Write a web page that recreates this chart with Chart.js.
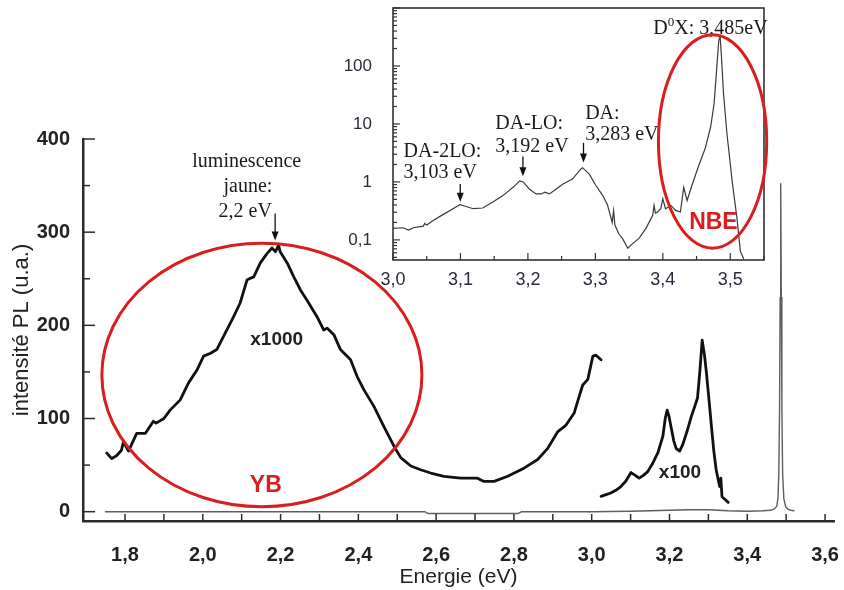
<!DOCTYPE html>
<html lang="fr">
<head>
<meta charset="utf-8">
<title>Spectre de photoluminescence</title>
<script src="https://cdn.jsdelivr.net/npm/chart.js@4.4.1/dist/chart.umd.min.js"></script>
<style>
  body { margin: 0; background: #fff; }
  #wrap { position: relative; width: 844px; height: 590px; }
  #main { position: absolute; left: 0; top: 0; }
  #inset { position: absolute; left: 330px; top: 0; }
</style>
</head>
<body>
<div id="wrap">
  <canvas id="main" width="844" height="590"></canvas>
  <canvas id="inset" width="470" height="290"></canvas>
</div>
<script>
// spectre brut (x1), trait gris
const pl1Energy = [1.75, 2.0, 2.3, 2.57, 2.58, 2.81, 2.82, 3.0, 3.1, 3.15, 3.2, 3.25, 3.3, 3.35, 3.4, 3.44, 3.46, 3.47,
  3.476, 3.479, 3.481, 3.483, 3.4845, 3.486, 3.4875, 3.489, 3.491, 3.494, 3.499, 3.505, 3.512, 3.52];
const pl1Intensity = [0, 0, 0, 0, -2, -2, 0, 0, 0.5, 1, 1.5, 2, 2, 1, 0.5, 1, 1.5, 3,
  6, 15, 40, 110, 230, 352, 230, 110, 40, 14, 5, 2.5, 1.5, 1];

// bande jaune (x1000)
const ybEnergy = [1.753, 1.766, 1.778, 1.791, 1.796, 1.809, 1.830, 1.852, 1.873, 1.880, 1.900, 1.916, 1.942, 1.963, 1.985,
  2.002, 2.020, 2.036, 2.053, 2.079, 2.096, 2.114, 2.131, 2.148, 2.165, 2.178, 2.187, 2.195, 2.199, 2.217, 2.234,
  2.251, 2.268, 2.294, 2.311, 2.320, 2.337, 2.354, 2.380, 2.397, 2.414, 2.440, 2.466, 2.492, 2.509, 2.535, 2.560,
  2.586, 2.620, 2.663, 2.706, 2.723, 2.749, 2.784, 2.801, 2.827, 2.861, 2.887, 2.913, 2.934, 2.955, 2.968, 2.977,
  2.990, 3.003, 3.011, 3.024];
const ybIntensity = [63, 57, 60, 66, 75, 65, 84, 84, 97, 95, 100, 109, 120, 138, 152,
  167, 170, 174, 188, 209, 224, 249, 252, 267, 277, 283, 279, 286, 279, 267, 252,
  238, 227, 209, 195, 197, 190, 174, 163, 145, 131, 113, 91, 70, 58, 49, 45,
  41.5, 38, 36, 36, 32.5, 32.5, 38, 41.5, 47, 56, 68, 86, 93, 106, 124, 136,
  142, 167, 168, 163];

// transitions DA (x100)
const daEnergy = [3.024, 3.035, 3.049, 3.062, 3.075, 3.088, 3.101, 3.112, 3.122, 3.133, 3.144, 3.157, 3.170, 3.183,
  3.189, 3.194, 3.199, 3.204, 3.211, 3.217, 3.226, 3.234, 3.245, 3.256, 3.265, 3.272, 3.278, 3.284, 3.290, 3.295,
  3.302, 3.308, 3.314, 3.320, 3.326, 3.329, 3.332, 3.335, 3.343, 3.351];
const daIntensity = [16.4, 18, 20, 23, 27, 33, 42, 39, 36, 39, 43, 52, 63, 81,
  100, 109, 102, 91, 76, 68, 65, 72, 86, 102, 113, 122, 150, 184, 168, 149,
  118, 91, 65, 45, 33, 27, 36, 16, 13, 10];

// encart, échelle log
const insetEnergy = [3.000, 3.015, 3.023, 3.030, 3.045, 3.047, 3.050, 3.060, 3.074, 3.089, 3.099, 3.106, 3.119, 3.133,
  3.148, 3.163, 3.178, 3.188, 3.193, 3.202, 3.212, 3.220, 3.225, 3.232, 3.242, 3.252, 3.266, 3.279, 3.281, 3.291,
  3.301, 3.311, 3.318, 3.325, 3.327, 3.329, 3.335, 3.340, 3.348, 3.353, 3.365, 3.375, 3.385, 3.387, 3.389, 3.392,
  3.397, 3.400, 3.404, 3.412, 3.419, 3.426, 3.431, 3.436, 3.443, 3.453, 3.463, 3.471, 3.476, 3.480, 3.483, 3.485,
  3.487, 3.490, 3.495, 3.503, 3.510, 3.515, 3.520];
const insetIntensity = [0.158, 0.162, 0.148, 0.162, 0.173, 0.192, 0.18, 0.219, 0.273, 0.345, 0.404, 0.384, 0.345, 0.355,
  0.449, 0.581, 0.807, 1.04, 1.0, 0.755, 0.621, 0.621, 0.663, 0.621, 0.755, 0.918, 1.12, 1.69, 1.76, 1.36,
  0.859, 0.581, 0.40, 0.2, 0.32, 0.18, 0.125, 0.107, 0.072, 0.082, 0.107, 0.158, 0.266, 0.393, 0.29, 0.303,
  0.345, 0.51, 0.345, 0.393, 0.323, 0.303, 0.807, 0.478, 0.859, 1.88, 3.85, 8.96, 22.4, 93.5, 280, 320,
  140, 33, 6.9, 0.98, 0.233, 0.0635, 0.047];

const xTickValues = [1.8, 2.0, 2.2, 2.4, 2.6, 2.8, 3.0, 3.2, 3.4, 3.6];
const yTickValues = [0, 100, 200, 300, 400];
const insetXTicks = [3.0, 3.1, 3.2, 3.3, 3.4, 3.5];
const insetYTicks = [0.1, 1, 10, 100];

const sans = '"Liberation Sans", Arial, sans-serif';
const serif = '"Liberation Serif", "Times New Roman", serif';
const red = '#d81e1e';

const toPoints = (xs, ys) => xs.map((x, i) => ({x: x, y: ys[i]}));

// pas de marge automatique autour des axes
function fixSize(w, h) {
    return s => {
        if (w) s.width = w;
        if (h) s.height = h;
        s.paddingLeft = 0; s.paddingRight = 0;
        s.paddingTop = 0; s.paddingBottom = 0;
    };
}

function drawText(ctx, str, px, py, font, color, align) {
    ctx.font = font;
    ctx.fillStyle = color;
    ctx.textAlign = align || 'center';
    ctx.textBaseline = 'middle';
    ctx.fillText(str, px, py);
}

function drawArrow(ctx, px, yTop, yBot) {
    ctx.strokeStyle = '#111';
    ctx.fillStyle = '#111';
    ctx.lineWidth = 1.3;
    ctx.beginPath();
    ctx.moveTo(px, yTop);
    ctx.lineTo(px, yBot - 6);
    ctx.stroke();
    ctx.beginPath();
    ctx.moveTo(px - 3.5, yBot - 9);
    ctx.lineTo(px + 3.5, yBot - 9);
    ctx.lineTo(px, yBot);
    ctx.closePath();
    ctx.fill();
}

function tick(ctx, x1, y1, x2, y2) {
    ctx.beginPath();
    ctx.moveTo(x1, y1);
    ctx.lineTo(x2, y2);
    ctx.stroke();
}

const mainDecor = {
    id: 'mainDecor',
    afterDatasetsDraw(chart) {
        const {ctx, chartArea, scales: {x, y}} = chart;
        ctx.save();
        // graduations vers l'intérieur
        ctx.strokeStyle = '#2b2b2b';
        ctx.lineWidth = 1.5;
        for (let i = 18; i <= 36; i++) {
            const px = x.getPixelForValue(i / 10);
            tick(ctx, px, chartArea.bottom, px, chartArea.bottom - 7);
        }
        for (let i = 0; i <= 8; i++) {
            const py = y.getPixelForValue(i * 50);
            tick(ctx, chartArea.left, py, chartArea.left + (i % 2 ? 7 : 12), py);
        }

        // ellipse YB
        const cx = x.getPixelForValue(2.152), cy = y.getPixelForValue(146.7);
        const rx = x.getPixelForValue(2.152 + 0.4115) - cx;
        const ry = cy - y.getPixelForValue(146.7 + 141.4);
        ctx.strokeStyle = red;
        ctx.lineWidth = 3;
        ctx.beginPath();
        ctx.ellipse(cx, cy, rx, ry, 0, 0, Math.PI * 2);
        ctx.stroke();

        drawText(ctx, 'YB', x.getPixelForValue(2.162), y.getPixelForValue(28), 'bold 23px ' + sans, red);
        drawText(ctx, 'x1000', x.getPixelForValue(2.19), y.getPixelForValue(185), 'bold 19px ' + sans, '#222');
        drawText(ctx, 'x100', x.getPixelForValue(3.227), y.getPixelForValue(42), 'bold 19px ' + sans, '#222');

        drawText(ctx, 'luminescence', x.getPixelForValue(2.113), y.getPixelForValue(375.7), '20px ' + serif, '#1a1a1a');
        drawText(ctx, 'jaune:', x.getPixelForValue(2.116), y.getPixelForValue(349), '20px ' + serif, '#1a1a1a');
        drawText(ctx, '2,2 eV', x.getPixelForValue(2.109), y.getPixelForValue(322), '20px ' + serif, '#1a1a1a');
        drawArrow(ctx, x.getPixelForValue(2.186), y.getPixelForValue(320), y.getPixelForValue(291));
        ctx.restore();
    }
};

const insetDecor = {
    id: 'insetDecor',
    beforeDraw(chart) {
        const {ctx, chartArea} = chart;
        ctx.save();
        ctx.fillStyle = '#fff';
        ctx.fillRect(chartArea.left, chartArea.top, chartArea.right - chartArea.left, chartArea.bottom - chartArea.top);
        ctx.restore();
    },
    afterDatasetsDraw(chart) {
        const {ctx, chartArea, scales: {x, y}} = chart;
        ctx.save();
        ctx.strokeStyle = '#333';
        ctx.lineWidth = 1.6;
        ctx.strokeRect(chartArea.left, chartArea.top, chartArea.right - chartArea.left, chartArea.bottom - chartArea.top);

        ctx.lineWidth = 1.2;
        for (let i = 60; i <= 71; i++) {
            const px = x.getPixelForValue(i / 20);
            tick(ctx, px, chartArea.bottom, px, chartArea.bottom - (i % 2 ? 4 : 7));
        }
        for (let d = -2; d <= 3; d++) {
            for (let m = 1; m <= 9; m++) {
                const v = m * Math.pow(10, d);
                if (v < y.min || v > y.max) continue;
                const py = y.getPixelForValue(v);
                tick(ctx, chartArea.left, py, chartArea.left + (m === 1 ? 7 : 4), py);
            }
        }

        const f = '20px ' + serif, c = '#1a1a1a';
        drawText(ctx, 'DA-2LO:', x.getPixelForValue(3.0157), y.getPixelForValue(3.37), f, c, 'left');
        drawText(ctx, '3,103 eV', x.getPixelForValue(3.0157), y.getPixelForValue(1.45), f, c, 'left');
        drawArrow(ctx, x.getPixelForValue(3.0997), y.getPixelForValue(0.918), y.getPixelForValue(0.454));
        drawText(ctx, 'DA-LO:', x.getPixelForValue(3.1516), y.getPixelForValue(10.2), f, c, 'left');
        drawText(ctx, '3,192 eV', x.getPixelForValue(3.1516), y.getPixelForValue(4.10), f, c, 'left');
        drawArrow(ctx, x.getPixelForValue(3.1926), y.getPixelForValue(2.74), y.getPixelForValue(1.25));
        drawText(ctx, 'DA:', x.getPixelForValue(3.2849), y.getPixelForValue(15.1), f, c, 'left');
        drawText(ctx, '3,283 eV', x.getPixelForValue(3.2849), y.getPixelForValue(6.48), f, c, 'left');
        drawArrow(ctx, x.getPixelForValue(3.2824), y.getPixelForValue(4.74), y.getPixelForValue(2.17));

        // D0X avec exposant
        let px = x.getPixelForValue(3.386);
        const py = y.getPixelForValue(442);
        drawText(ctx, 'D', px, py, f, c, 'left');
        px += ctx.measureText('D').width;
        drawText(ctx, '0', px, py - 6, '13px ' + serif, c, 'left');
        px += ctx.measureText('0').width;
        drawText(ctx, 'X: 3,485eV', px, py, f, c, 'left');

        // ellipse NBE
        const l = x.getPixelForValue(3.3935), r = x.getPixelForValue(3.554);
        const t = y.getPixelForValue(345), b = y.getPixelForValue(0.072);
        ctx.strokeStyle = red;
        ctx.lineWidth = 3;
        ctx.beginPath();
        ctx.ellipse((l + r) / 2, (t + b) / 2, (r - l) / 2, (b - t) / 2, 0, 0, Math.PI * 2);
        ctx.stroke();
        drawText(ctx, 'NBE', x.getPixelForValue(3.475), y.getPixelForValue(0.2), 'bold 23px ' + sans, red);
        ctx.restore();
    }
};

const mainChart = new Chart(document.getElementById('main'), {
    type: 'line',
    data: {
        datasets: [
            { label: 'x1000', data: toPoints(ybEnergy, ybIntensity), borderColor: '#111', borderWidth: 2.8 },
            { label: 'x100', data: toPoints(daEnergy, daIntensity), borderColor: '#111', borderWidth: 2.8 },
            { label: 'x1', data: toPoints(pl1Energy, pl1Intensity), borderColor: '#5e5e5e', borderWidth: 1.4 }
        ]
    },
    options: {
        responsive: false,
        animation: false,
        elements: {
            point: { radius: 0 },
            line: { tension: 0, borderJoinStyle: 'round', borderCapStyle: 'round' }
        },
        layout: { padding: { top: 139, right: 10, left: 0, bottom: 0 } },
        plugins: { legend: { display: false }, tooltip: { enabled: false } },
        scales: {
            x: {
                type: 'linear',
                min: 1.692,
                max: 3.623,
                grid: { display: false },
                border: { display: true, color: '#2b2b2b', width: 2.5 },
                afterBuildTicks: s => { s.ticks = xTickValues.map(v => ({value: v})); },
                afterFit: fixSize(0, 69),
                ticks: {
                    padding: 14,
                    color: '#222',
                    maxRotation: 0,
                    autoSkip: false,
                    font: { family: sans, size: 20, weight: 'bold' },
                    callback: v => v.toFixed(1).replace('.', ',')
                },
                title: {
                    display: true,
                    text: 'Energie (eV)',
                    color: '#222',
                    font: { family: sans, size: 21 },
                    padding: { top: 0, bottom: 0 }
                }
            },
            y: {
                min: -10,
                max: 400,
                grid: { display: false },
                border: { display: true, color: '#2b2b2b', width: 2.5 },
                afterBuildTicks: s => { s.ticks = yTickValues.map(v => ({value: v})); },
                afterFit: fixSize(83, 0),
                ticks: {
                    padding: 5,
                    color: '#222',
                    font: { family: sans, size: 20, weight: 'bold' }
                },
                title: {
                    display: true,
                    text: 'intensité PL (u.a.)',
                    color: '#222',
                    font: { family: sans, size: 22 },
                    padding: { top: 9, bottom: 0 }
                }
            }
        }
    },
    plugins: [mainDecor]
});

const insetChart = new Chart(document.getElementById('inset'), {
    type: 'line',
    data: {
        datasets: [
            { label: 'PL log', data: toPoints(insetEnergy, insetIntensity), borderColor: '#3a3a3a', borderWidth: 1.2 }
        ]
    },
    options: {
        responsive: false,
        animation: false,
        elements: { point: { radius: 0 }, line: { tension: 0 } },
        layout: { padding: { top: 8, right: 36, left: 0, bottom: 0 } },
        plugins: { legend: { display: false }, tooltip: { enabled: false } },
        scales: {
            x: {
                type: 'linear',
                min: 3.0,
                max: 3.55,
                grid: { display: false },
                border: { display: false },
                afterBuildTicks: s => { s.ticks = insetXTicks.map(v => ({value: v})); },
                afterFit: fixSize(0, 30),
                ticks: {
                    padding: 1,
                    color: '#2a2a3a',
                    maxRotation: 0,
                    autoSkip: false,
                    font: { family: sans, size: 18 },
                    callback: v => v.toFixed(1).replace('.', ',')
                }
            },
            y: {
                type: 'logarithmic',
                min: 0.045,
                max: 1000,
                grid: { display: false },
                border: { display: false },
                afterBuildTicks: s => { s.ticks = insetYTicks.map(v => ({value: v})); },
                afterFit: fixSize(63, 0),
                ticks: {
                    padding: 13,
                    color: '#2a2a3a',
                    font: { family: sans, size: 17 },
                    callback: v => String(v).replace('.', ',')
                }
            }
        }
    },
    plugins: [insetDecor]
});
</script>
</body>
</html>
